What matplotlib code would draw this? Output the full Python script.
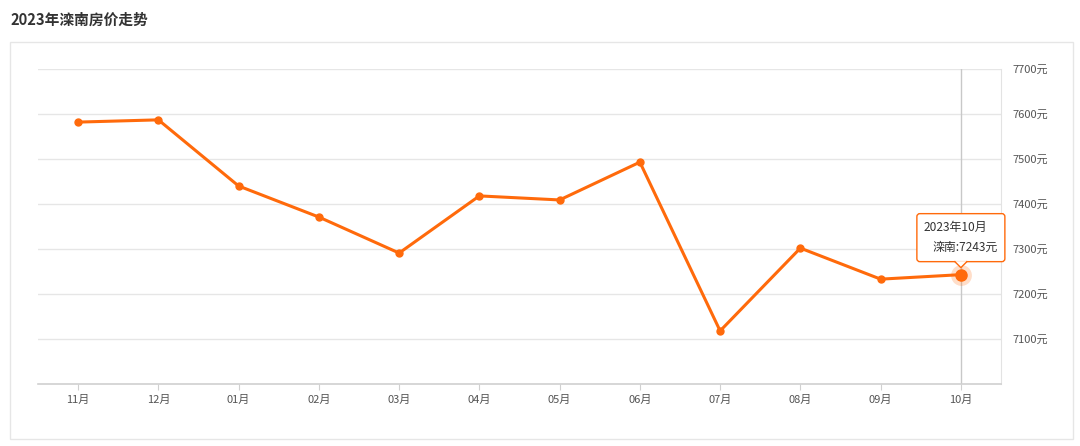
import numpy as np
import matplotlib
matplotlib.use("Agg")
from matplotlib import pyplot as plt
from matplotlib.patches import Rectangle, FancyBboxPatch, Polygon
from matplotlib.lines import Line2D

plt.rcParams['font.family'] = ['Noto Sans CJK SC', 'DejaVu Sans']

# data
months = ["11月", "12月", "01月", "02月", "03月", "04月", "05月", "06月", "07月", "08月", "09月", "10月"]
prices = [7582, 7587, 7440, 7371, 7291, 7418, 7409, 7493, 7118, 7302, 7233, 7243]
yticks = [7100, 7200, 7300, 7400, 7500, 7600, 7700]

orange = "#ff6a0b"

fig = plt.figure(figsize=(10.8, 4.46), dpi=100)
W, H = 1080, 446

# outer panel border
fig.patches.append(Rectangle((10 / W, 1 - 439 / H), 1063 / W, 397 / H, transform=fig.transFigure,
                             fill=False, edgecolor="#e6e6e6", lw=1))
fig.text(10 / W, 1 - 20 / H, "2023年滦南房价走势", fontsize=10.6, fontweight="bold",
         color="#333333", va="center", ha="left")

ax = fig.add_axes([38 / W, 1 - 384 / H, 963 / W, 315 / H])
x = np.arange(len(months))
ax.set_xlim(-0.5, len(months) - 0.5)
ax.set_ylim(7000, 7700)

for s in ["top", "left"]:
    ax.spines[s].set_visible(False)
ax.spines["bottom"].set_color("#d0d0d0")
ax.spines["bottom"].set_linewidth(1.2)
ax.spines["right"].set_color("#e3e3e3")

ax.yaxis.tick_right()
ax.set_yticks(yticks)
ax.set_yticklabels([f"{v}元" for v in yticks], fontsize=8, color="#555555")
ax.tick_params(axis="y", length=0, pad=8)
ax.set_xticks(x)
ax.set_xticklabels(months, fontsize=8, color="#555555")
ax.tick_params(axis="x", length=4, color="#d0d0d0", pad=4)
ax.grid(axis="y", color="#e6e6e6", lw=1)
ax.set_axisbelow(True)

# crosshair at last point
ax.axvline(x[-1], color="#c8c8c8", lw=1, zorder=1)

ax.plot(x, prices, color=orange, lw=2.2, marker="o", ms=5, zorder=3)
ax.plot(x[-1], prices[-1], "o", ms=15, color=orange, alpha=0.22, mec="none", zorder=4)
ax.plot(x[-1], prices[-1], "o", ms=8, color=orange, zorder=5)

# tooltip (pixel coords around the last point)
px, py = ax.transData.transform((x[-1], prices[-1]))
box = FancyBboxPatch((px - 44, py + 13), 88, 48, boxstyle="round,pad=0,rounding_size=3",
                     fc="white", ec=orange, lw=1, transform=None, zorder=10)
fig.patches.append(box)
fig.patches.append(Polygon([(px - 6, py + 13.5), (px + 6, py + 13.5), (px, py + 7)], closed=True,
                           fc="white", ec="none", transform=None, zorder=11))
fig.lines.append(Line2D([px - 6, px, px + 6], [py + 13, py + 7, py + 13], color=orange, lw=1,
                        transform=None, zorder=12))
fig.text(px - 37, py + 47, "2023年10月", transform=None, fontsize=8.6, color="#333333",
         ha="left", va="center", zorder=13)
fig.text(px + 37, py + 27, f"滦南:{prices[-1]}元", transform=None, fontsize=8.6, color="#333333",
         ha="right", va="center", zorder=13)

fig.savefig("out.png", dpi=100)
